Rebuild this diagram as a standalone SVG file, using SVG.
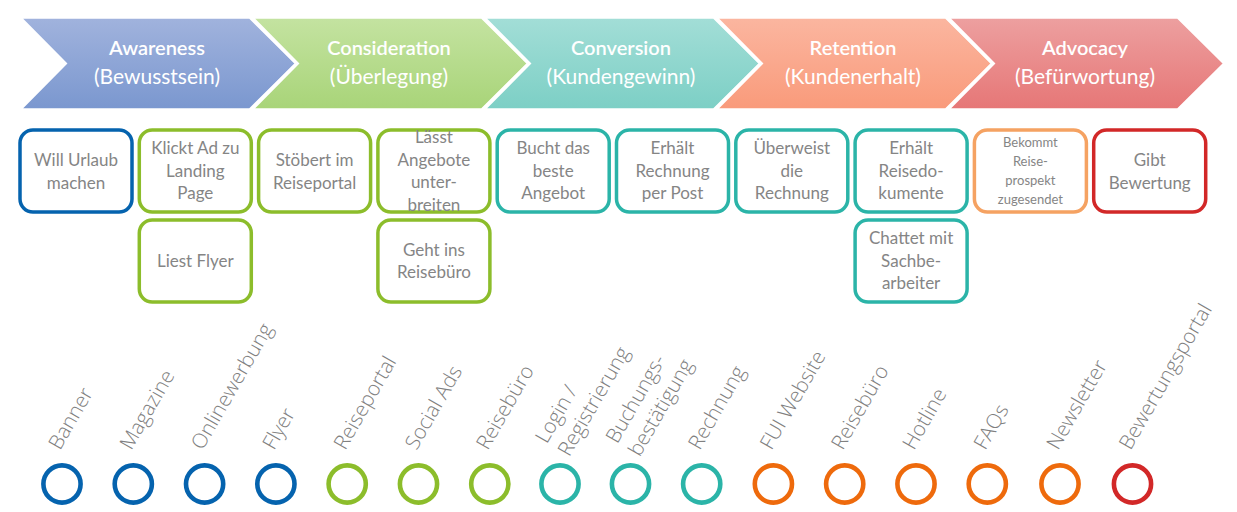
<svg xmlns="http://www.w3.org/2000/svg" width="1237" height="512" viewBox="0 0 1237 512">
<defs>
<linearGradient id="gBlue" x1="0" y1="0" x2="0" y2="1"><stop offset="0" stop-color="#A1B3DD"/><stop offset="1" stop-color="#7A97CF"/></linearGradient>
<linearGradient id="gGreen" x1="0" y1="0" x2="0" y2="1"><stop offset="0" stop-color="#C4E3A1"/><stop offset="1" stop-color="#A8D478"/></linearGradient>
<linearGradient id="gTeal" x1="0" y1="0" x2="0" y2="1"><stop offset="0" stop-color="#A3DED7"/><stop offset="1" stop-color="#7CCFC5"/></linearGradient>
<linearGradient id="gSalmon" x1="0" y1="0" x2="0" y2="1"><stop offset="0" stop-color="#FBB6A0"/><stop offset="1" stop-color="#F99A7A"/></linearGradient>
<linearGradient id="gRed" x1="0" y1="0" x2="0" y2="1"><stop offset="0" stop-color="#EDA0A0"/><stop offset="1" stop-color="#E67676"/></linearGradient>
<polygon id="chev" points="0,17 231,17 278,63.5 231,110 0,110 46,63.5"/>
</defs>
<style>
.chev{stroke:#FFFFFF;stroke-width:3.5;stroke-linejoin:miter}
.ttl{font-family:Lato,"Liberation Sans",sans-serif;font-size:20px;font-weight:600;fill:#FFFFFF;text-anchor:middle}
.sub{font-family:Lato,"Liberation Sans",sans-serif;font-size:21px;fill:#FFFFFF;text-anchor:middle}
.box{fill:#FFFFFF;stroke-width:3.5}
.bt{font-family:Lato,"Liberation Sans",sans-serif;font-size:17px;fill:#858585;text-anchor:middle}
.bs{font-family:Lato,"Liberation Sans",sans-serif;font-size:13px;fill:#858585;text-anchor:middle}
.blue{stroke:#0563AE}
.green{stroke:#8CBD2B}
.teal{stroke:#2BB4A8}
.lorange{stroke:#F5A262}
.orange{stroke:#EE6A0C}
.red{stroke:#D22828}
.ring{fill:none;stroke-width:4.6}
.lbl{font-family:"Open Sans","Noto Sans",sans-serif;font-size:20.5px;font-weight:300;fill:#808080}
</style>

<g id="stages">
<g id="stage-awareness"><use href="#chev" x="19" class="chev" fill="url(#gBlue)"/><text class="ttl" x="157" y="55">Awareness</text><text class="sub" x="157" y="84">(Bewusstsein)</text></g>
<g id="stage-consideration"><use href="#chev" x="251" class="chev" fill="url(#gGreen)"/><text class="ttl" x="389" y="55">Consideration</text><text class="sub" x="389" y="84">(Überlegung)</text></g>
<g id="stage-conversion"><use href="#chev" x="483" class="chev" fill="url(#gTeal)"/><text class="ttl" x="621" y="55">Conversion</text><text class="sub" x="621" y="84">(Kundengewinn)</text></g>
<g id="stage-retention"><use href="#chev" x="715" class="chev" fill="url(#gSalmon)"/><text class="ttl" x="853" y="55">Retention</text><text class="sub" x="853" y="84">(Kundenerhalt)</text></g>
<g id="stage-advocacy"><use href="#chev" x="947" class="chev" fill="url(#gRed)"/><text class="ttl" x="1085" y="55">Advocacy</text><text class="sub" x="1085" y="84">(Befürwortung)</text></g>
</g>

<g id="steps">
<g id="step-1"><rect class="box blue" x="20" y="130" width="112" height="82" rx="13"/><text class="bt" x="76" y="166">Will Urlaub</text><text class="bt" x="76" y="188.5">machen</text></g>
<g id="step-2"><rect class="box green" x="139.3" y="130" width="112" height="82" rx="13"/><text class="bt" x="195.3" y="154">Klickt Ad zu</text><text class="bt" x="195.3" y="176.5">Landing</text><text class="bt" x="195.3" y="199">Page</text></g>
<g id="step-2b"><rect class="box green" x="139.3" y="220" width="112" height="82" rx="13"/><text class="bt" x="195.3" y="267">Liest Flyer</text></g>
<g id="step-3"><rect class="box green" x="258.6" y="130" width="112" height="82" rx="13"/><text class="bt" x="314.6" y="166">Stöbert im</text><text class="bt" x="314.6" y="188.5">Reiseportal</text></g>
<g id="step-4"><rect class="box green" x="377.9" y="130" width="112" height="82" rx="13"/><text class="bt" x="433.9" y="143">Lässt</text><text class="bt" x="433.9" y="165.5">Angebote</text><text class="bt" x="433.9" y="188">unter-</text><text class="bt" x="433.9" y="210.5">breiten</text></g>
<g id="step-4b"><rect class="box green" x="377.9" y="220" width="112" height="82" rx="13"/><text class="bt" x="433.9" y="255.5">Geht ins</text><text class="bt" x="433.9" y="278">Reisebüro</text></g>
<g id="step-5"><rect class="box teal" x="497.2" y="130" width="112" height="82" rx="13"/><text class="bt" x="553.2" y="154">Bucht das</text><text class="bt" x="553.2" y="176.5">beste</text><text class="bt" x="553.2" y="199">Angebot</text></g>
<g id="step-6"><rect class="box teal" x="616.5" y="130" width="112" height="82" rx="13"/><text class="bt" x="672.5" y="154">Erhält</text><text class="bt" x="672.5" y="176.5">Rechnung</text><text class="bt" x="672.5" y="199">per Post</text></g>
<g id="step-7"><rect class="box teal" x="735.8" y="130" width="112" height="82" rx="13"/><text class="bt" x="791.8" y="154">Überweist</text><text class="bt" x="791.8" y="176.5">die</text><text class="bt" x="791.8" y="199">Rechnung</text></g>
<g id="step-8"><rect class="box teal" x="855.1" y="130" width="112" height="82" rx="13"/><text class="bt" x="911.1" y="154">Erhält</text><text class="bt" x="911.1" y="176.5">Reisedo-</text><text class="bt" x="911.1" y="199">kumente</text></g>
<g id="step-8b"><rect class="box teal" x="855.1" y="220" width="112" height="82" rx="13"/><text class="bt" x="911.1" y="244">Chattet mit</text><text class="bt" x="911.1" y="266.5">Sachbe-</text><text class="bt" x="911.1" y="289">arbeiter</text></g>
<g id="step-9"><rect class="box lorange" x="974.4" y="130" width="112" height="82" rx="13"/><text class="bs" x="1030.4" y="147">Bekommt</text><text class="bs" x="1030.4" y="166">Reise-</text><text class="bs" x="1030.4" y="185">prospekt</text><text class="bs" x="1030.4" y="204">zugesendet</text></g>
<g id="step-10"><rect class="box red" x="1093.7" y="130" width="112" height="82" rx="13"/><text class="bt" x="1149.7" y="166">Gibt</text><text class="bt" x="1149.7" y="188.5">Bewertung</text></g>
</g>

<g id="channels">
<g id="ch-banner"><circle class="ring blue" cx="62" cy="484" r="18.6"/><text class="lbl" transform="translate(60,451) rotate(-60)">Banner</text></g>
<g id="ch-magazine"><circle class="ring blue" cx="133.3" cy="484" r="18.6"/><text class="lbl" transform="translate(131.3,451) rotate(-60)">Magazine</text></g>
<g id="ch-onlinewerbung"><circle class="ring blue" cx="204.6" cy="484" r="18.6"/><text class="lbl" transform="translate(202.6,451) rotate(-60)">Onlinewerbung</text></g>
<g id="ch-flyer"><circle class="ring blue" cx="275.9" cy="484" r="18.6"/><text class="lbl" transform="translate(273.9,451) rotate(-60)">Flyer</text></g>
<g id="ch-reiseportal"><circle class="ring green" cx="347.2" cy="484" r="18.6"/><text class="lbl" transform="translate(345.2,451) rotate(-60)">Reiseportal</text></g>
<g id="ch-socialads"><circle class="ring green" cx="418.5" cy="484" r="18.6"/><text class="lbl" transform="translate(416.5,451) rotate(-60)">Social Ads</text></g>
<g id="ch-reisebuero1"><circle class="ring green" cx="489.8" cy="484" r="18.6"/><text class="lbl" transform="translate(487.8,451) rotate(-60)">Reisebüro</text></g>
<g id="ch-login"><circle class="ring teal" cx="560" cy="484" r="18.6"/><text class="lbl" transform="translate(558,451) rotate(-60)"><tspan x="0" y="-13">Login /</tspan><tspan x="0" y="13">Registrierung</tspan></text></g>
<g id="ch-buchung"><circle class="ring teal" cx="630.5" cy="484" r="18.6"/><text class="lbl" transform="translate(628.5,451) rotate(-60)"><tspan x="0" y="-13">Buchungs-</tspan><tspan x="0" y="13">bestätigung</tspan></text></g>
<g id="ch-rechnung"><circle class="ring teal" cx="701.7" cy="484" r="18.6"/><text class="lbl" transform="translate(699.7,451) rotate(-60)">Rechnung</text></g>
<g id="ch-fui"><circle class="ring orange" cx="773.4" cy="484" r="18.6"/><text class="lbl" transform="translate(771.4,451) rotate(-60)">FUI Website</text></g>
<g id="ch-reisebuero2"><circle class="ring orange" cx="844.7" cy="484" r="18.6"/><text class="lbl" transform="translate(842.7,451) rotate(-60)">Reisebüro</text></g>
<g id="ch-hotline"><circle class="ring orange" cx="916" cy="484" r="18.6"/><text class="lbl" transform="translate(914,451) rotate(-60)">Hotline</text></g>
<g id="ch-faqs"><circle class="ring orange" cx="987.3" cy="484" r="18.6"/><text class="lbl" transform="translate(985.3,451) rotate(-60)">FAQs</text></g>
<g id="ch-newsletter"><circle class="ring orange" cx="1060" cy="484" r="18.6"/><text class="lbl" transform="translate(1058,451) rotate(-60)">Newsletter</text></g>
<g id="ch-bewertungsportal"><circle class="ring red" cx="1132.5" cy="484" r="18.6"/><text class="lbl" transform="translate(1130.5,451) rotate(-60)">Bewertungsportal</text></g>
</g>

<g id="connectors"></g>
</svg>
